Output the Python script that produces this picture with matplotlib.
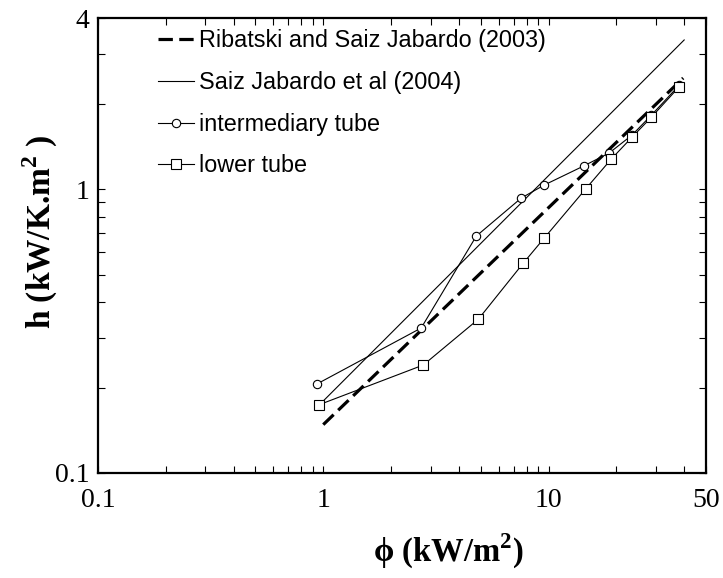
import matplotlib
matplotlib.use("Agg")
import matplotlib.pyplot as plt
from matplotlib.ticker import LogLocator, FixedLocator, NullFormatter

plt.rcParams['mathtext.fontset'] = 'custom'
plt.rcParams['mathtext.rm'] = 'Liberation Serif'
plt.rcParams['mathtext.bf'] = 'Liberation Serif:bold'

# heat flux (kW/m2) and heat transfer coefficient (kW/K.m2)
phiInter = [0.94, 2.72, 4.78, 7.56, 9.57, 14.3, 18.6, 23.5, 28.6, 38.0]
hInter = [0.206, 0.324, 0.683, 0.929, 1.033, 1.205, 1.34, 1.55, 1.82, 2.32]

phiLower = [0.96, 2.78, 4.88, 7.72, 9.57, 14.6, 19.0, 23.5, 28.6, 38.0]
hLower = [0.174, 0.240, 0.348, 0.548, 0.672, 1.0, 1.276, 1.524, 1.79, 2.29]

# correlations
phiRibatski = [1.0, 39.6]
hRibatski = [0.148, 2.46]
phiSaiz = [0.97, 40.0]
hSaiz = [0.175, 3.35]

xTicks = [0.1, 1, 10, 50]
xTickLabels = ["0.1", "1", "10", "50"]
yTicks = [0.1, 1, 4]
yTickLabels = ["0.1", "1", "4"]

fig = plt.figure(figsize=(7.23, 5.78), dpi=100)
ax = fig.add_axes([0.1355, 0.1817, 0.841, 0.787])

ax.plot(phiRibatski, hRibatski, color='black', lw=2.3, dashes=(4.5, 2),
        label='Ribatski and Saiz Jabardo (2003)')
ax.plot(phiSaiz, hSaiz, color='black', lw=0.8, label='Saiz Jabardo et al (2004)')
ax.plot(phiInter, hInter, color='black', lw=0.8, marker='o', ms=6,
        mfc='white', mec='black', mew=0.8, label='intermediary tube')
ax.plot(phiLower, hLower, color='black', lw=0.8, marker='s', ms=7.5,
        mfc='white', mec='black', mew=0.8, label='lower tube')

ax.set_xscale('log')
ax.set_yscale('log')
ax.set_xlim(0.1, 50)
ax.set_ylim(0.1, 4)

ax.xaxis.set_major_locator(FixedLocator(xTicks))
ax.set_xticklabels(xTickLabels)
ax.xaxis.set_minor_locator(LogLocator(base=10, subs=range(2, 10)))
ax.xaxis.set_minor_formatter(NullFormatter())
ax.yaxis.set_major_locator(FixedLocator(yTicks))
ax.set_yticklabels(yTickLabels)
ax.yaxis.set_minor_locator(LogLocator(base=10, subs=range(2, 10)))
ax.yaxis.set_minor_formatter(NullFormatter())

for s in ax.spines.values():
    s.set_linewidth(1.6)
ax.tick_params(which='both', direction='in', top=True, right=True, length=5, width=0.8)
ax.tick_params(axis='x', which='major', pad=11)
ax.tick_params(axis='y', which='major', pad=6)
for lab in ax.get_xticklabels() + ax.get_yticklabels():
    lab.set_fontfamily('Liberation Serif')
    lab.set_fontsize(20)

ax.set_xlabel(r"ϕ (kW/m$^{\mathbf{2}}$)", fontsize=23.5, fontweight='bold',
              family=['Liberation Serif', 'DejaVu Serif'])
ax.xaxis.set_label_coords(0.576, -0.13)
ax.set_ylabel(r"h (kW/K.m$^{\mathbf{2}}$ )", fontsize=24, fontweight='bold',
              family=['Liberation Serif', 'DejaVu Serif'])
ax.yaxis.set_label_coords(-0.062, 0.53)

ax.legend(loc='upper left', bbox_to_anchor=(0.099, 0.975), frameon=False,
          borderpad=0, borderaxespad=0, handlelength=1.55, handletextpad=0.2,
          labelspacing=0.8, prop={'family': 'Liberation Sans', 'size': 16.8})

fig.savefig("out.png", dpi=100)
